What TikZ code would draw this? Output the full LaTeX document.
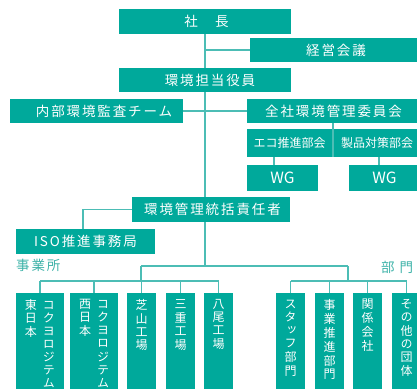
\documentclass[tikz,border=0pt]{standalone}
\usepackage{fontspec}
\setmainfont{Noto Sans CJK JP}
\newfontfamily\jp[LetterSpace=14]{Noto Sans CJK JP}
\newfontfamily\jpv[RawFeature=+vert]{Noto Sans CJK JP}
\usetikzlibrary{backgrounds}
\definecolor{boxc}{HTML}{00A99B}
\definecolor{linec}{HTML}{4CBDB5}
\definecolor{labc}{HTML}{3DB2A8}
\newcommand\vcol[1]{\begin{tabular}[t]{@{}c@{}}#1\end{tabular}}
\newcommand\colparbox[2]{\parbox[t][100pt][t]{#1}{\centering\vspace*{6pt}#2}}
\tikzset{
  orgbox/.style={fill=boxc, text=white, inner sep=0pt, font=\jp\fontsize{13.5}{15}\selectfont},
  smallbox/.style={fill=boxc, text=white, inner sep=0pt, font=\fontsize{12}{14}\selectfont},
  wgbox/.style={fill=boxc, text=white, inner sep=0pt, font=\fontsize{15.5}{17}\selectfont},
  colbox/.style={fill=boxc, text=white, inner sep=0pt, minimum height=100, anchor=north, font=\jpv\fontsize{12}{13}\selectfont},
  conn/.style={draw=linec, line width=1.2pt},
  grouplabel/.style={text=labc, inner sep=0pt, font=\jp\fontsize{13.5}{15}\selectfont}
}
\begin{document}
\begin{tikzpicture}[x=1pt,y=-1pt]
\useasboundingbox (0,0) rectangle (417,388);
% boxes
\node[orgbox, minimum width=172, minimum height=25] (shacho) at (205,21.5) {\hspace*{3pt}社　長};
\node[orgbox, minimum width=170, minimum height=24] (keiei) at (335,50) {\hspace*{2pt}経営会議};
\node[orgbox, minimum width=172, minimum height=24] (tanto) at (205,80) {\hspace*{10pt}環境担当役員};
\node[orgbox, minimum width=173, minimum height=24] (naibu) at (96.5,111) {\hspace*{15pt}内部環境監査チーム};
\node[orgbox, minimum width=173, minimum height=24] (zensha) at (333.5,111) {全社環境管理委員会};
\node[smallbox, minimum width=85, minimum height=28] (eco) at (289.5,143) {エコ推進部会};
\node[smallbox, minimum width=86, minimum height=28] (seihin) at (377,143) {製品対策部会};
\node[wgbox, minimum width=71, minimum height=26] (wg1) at (282.5,178) {WG};
\node[wgbox, minimum width=71, minimum height=26] (wg2) at (384.5,178) {WG};
\node[orgbox, minimum width=158, minimum height=25] (tokatsu) at (211,209.5) {\hspace*{3pt}環境管理統括責任者};
\node[orgbox, minimum width=139, minimum height=25] (iso) at (85.5,241.5) {ISO推進事務局};
% group labels
\node[grouplabel, anchor=west] (jigyosho) at (16,265.5) {事業所};
\node[grouplabel, anchor=west] (bumon) at (381,267) {部\hspace{5pt}門};
% column boxes
\node[colbox, minimum width=48] (kE) at (40,293) {\colparbox{48pt}{\vcol{東\\日\\本}\hspace{6pt}\vcol{コ\\ク\\ヨ\\ロ\\ジ\\テ\\ム}}};
\node[colbox, minimum width=48] (kW) at (94,293) {\colparbox{48pt}{\vcol{西\\日\\本}\hspace{6pt}\vcol{コ\\ク\\ヨ\\ロ\\ジ\\テ\\ム}}};
\node[colbox, minimum width=29] (shiba) at (141.5,293) {\colparbox{29pt}{\vcol{芝\\山\\工\\場}}};
\node[colbox, minimum width=29] (mie) at (180.5,293) {\colparbox{29pt}{\vcol{三\\重\\工\\場}}};
\node[colbox, minimum width=29] (yao) at (218.5,293) {\colparbox{29pt}{\vcol{八\\尾\\工\\場}}};
\node[colbox, minimum width=29] (staff) at (290.5,293) {\colparbox{29pt}{\vcol{ス\\タ\\ッ\\フ\\部\\門}}};
\node[colbox, minimum width=29] (jigyo) at (329.5,293) {\colparbox{29pt}{\vcol{事\\業\\推\\進\\部\\門}}};
\node[colbox, minimum width=29] (kankei) at (367.5,293) {\colparbox{29pt}{\vcol{関\\係\\会\\社}}};
\node[colbox, minimum width=29] (sonota) at (406.5,293) {\colparbox{29pt}{\vcol{そ\\の\\他\\の\\団\\体}}};
% helper coordinates
\coordinate (spinebot) at (205,266);
\coordinate (busL) at (141,266);
\coordinate (busR) at (348,266);
\coordinate (lbus) at (141,281);
\coordinate (rbus) at (348,281);
\coordinate (split) at (333,157);
\coordinate (c1) at (274,0);
\coordinate (c2) at (379,0);
\coordinate (isox) at (83,0);
% connectors
\begin{scope}[on background layer]
\draw[conn] (shacho.south) -- (spinebot);
\draw[conn] (shacho.south |- keiei.west) -- (keiei.west);
\draw[conn] (naibu.east) -- (zensha.west);
\draw[conn] (zensha.south -| split) -- (split);
\draw[conn] (eco.south -| c1) -- (wg1.north -| c1);
\draw[conn] (seihin.south -| c2) -- (wg2.north -| c2);
\draw[conn] (tokatsu.west) -| (iso.north -| isox);
\draw[conn] (busL) -- (busR);
\draw[conn] (busL) -- (lbus);
\draw[conn] (busR) -- (rbus);
\draw[conn] (kE.north |- lbus) -- (yao.north |- lbus);
\draw[conn] (staff.north |- rbus) -- (sonota.north |- rbus);
\foreach \n in {kE,kW,shiba,mie,yao,staff,jigyo,kankei,sonota}
  \draw[conn] (\n.north |- lbus) -- (\n.north);
\end{scope}
\end{tikzpicture}
\end{document}
